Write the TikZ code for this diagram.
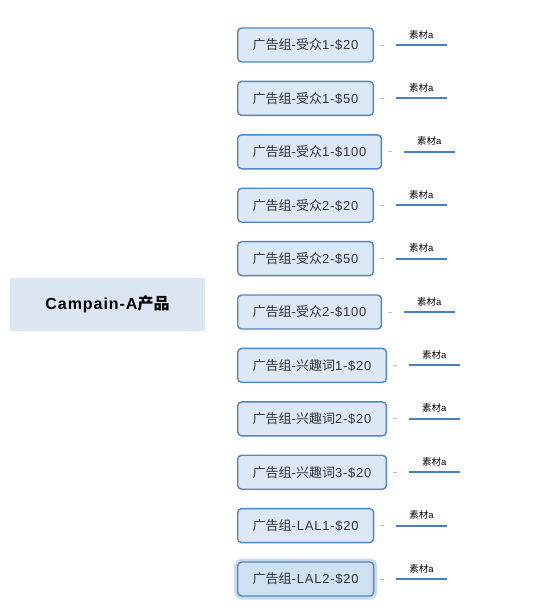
\documentclass[tikz,border=0pt]{standalone}
\usepackage{fontspec}
\setmainfont{Liberation Sans}[LetterSpace=6]
\newfontfamily\zhfont{Noto Sans CJK SC}
\usepackage{tikz}
\usetikzlibrary{positioning}

\definecolor{RootFill}{HTML}{DBE6F1}
\definecolor{GroupFill}{HTML}{DCE8F5}
\definecolor{GroupFillOn}{HTML}{CFE2F4}
\definecolor{GroupLine}{HTML}{5087C7}
\definecolor{MatLine}{HTML}{4A7FC4}
\definecolor{TextGray}{HTML}{333333}
\definecolor{Glow}{HTML}{C9DAEA}

\newcommand{\zh}[1]{{\zhfont #1}}

\tikzset{
  root/.style={fill=RootFill, minimum width=195pt, minimum height=53pt, font=\fontsize{16}{18}\selectfont\bfseries},
  group/.style={draw=GroupLine, line width=1.4pt, fill=GroupFill, rounded corners=4pt, minimum height=34pt, inner xsep=15pt, text=TextGray, font=\fontsize{13}{15}\selectfont},
  glow/.style={fill=GroupFillOn, preaction={draw=Glow, line width=7pt}},
  mat/.style={minimum width=50pt, inner xsep=0pt, inner ysep=6pt, font=\fontsize{9.5}{10}\selectfont},
  matline/.style={MatLine, line width=2pt},
  stub/.style={black!25, line width=0.8pt, shorten <=6pt, shorten >=12pt},
}

\begin{document}
\begin{tikzpicture}[x=1pt, y=1pt]
  \useasboundingbox (0,0) rectangle (554,-613);

  \node[root] (root) at (107.5,-304.5) {Campain-A\zh{产品}};

  \node[group, anchor=west] (g1) at (237,-45) {\zh{广告组}-\zh{受众}1-\$20};
  \node[group, below right=18pt and 0pt of g1.south west] (g2) {\zh{广告组}-\zh{受众}1-\$50};
  \node[group, below right=18pt and 0pt of g2.south west] (g3) {\zh{广告组}-\zh{受众}1-\$100};
  \node[group, below right=18pt and 0pt of g3.south west] (g4) {\zh{广告组}-\zh{受众}2-\$20};
  \node[group, below right=18pt and 0pt of g4.south west] (g5) {\zh{广告组}-\zh{受众}2-\$50};
  \node[group, below right=18pt and 0pt of g5.south west] (g6) {\zh{广告组}-\zh{受众}2-\$100};
  \node[group, below right=18pt and 0pt of g6.south west] (g7) {\zh{广告组}-\zh{兴趣词}1-\$20};
  \node[group, below right=18pt and 0pt of g7.south west] (g8) {\zh{广告组}-\zh{兴趣词}2-\$20};
  \node[group, below right=18pt and 0pt of g8.south west] (g9) {\zh{广告组}-\zh{兴趣词}3-\$20};
  \node[group, below right=18pt and 0pt of g9.south west] (g10) {\zh{广告组}-LAL1-\$20};
  \node[group, glow, below right=18pt and 0pt of g10.south west] (g11) {\zh{广告组}-LAL2-\$20};

  \node[mat, above right=0pt and 22pt of g1.east] (m1) {\zh{素材}a};
  \node[mat, above right=0pt and 22pt of g2.east] (m2) {\zh{素材}a};
  \node[mat, above right=0pt and 22pt of g3.east] (m3) {\zh{素材}a};
  \node[mat, above right=0pt and 22pt of g4.east] (m4) {\zh{素材}a};
  \node[mat, above right=0pt and 22pt of g5.east] (m5) {\zh{素材}a};
  \node[mat, above right=0pt and 22pt of g6.east] (m6) {\zh{素材}a};
  \node[mat, above right=0pt and 22pt of g7.east] (m7) {\zh{素材}a};
  \node[mat, above right=0pt and 22pt of g8.east] (m8) {\zh{素材}a};
  \node[mat, above right=0pt and 22pt of g9.east] (m9) {\zh{素材}a};
  \node[mat, above right=0pt and 22pt of g10.east] (m10) {\zh{素材}a};
  \node[mat, above right=0pt and 22pt of g11.east] (m11) {\zh{素材}a};

  \draw[stub] (g1.east) -- (m1.south west);
  \draw[stub] (g2.east) -- (m2.south west);
  \draw[stub] (g3.east) -- (m3.south west);
  \draw[stub] (g4.east) -- (m4.south west);
  \draw[stub] (g5.east) -- (m5.south west);
  \draw[stub] (g6.east) -- (m6.south west);
  \draw[stub] (g7.east) -- (m7.south west);
  \draw[stub] (g8.east) -- (m8.south west);
  \draw[stub] (g9.east) -- (m9.south west);
  \draw[stub] (g10.east) -- (m10.south west);
  \draw[stub] (g11.east) -- (m11.south west);

  \draw[matline] (m1.south west) -- (m1.south east);
  \draw[matline] (m2.south west) -- (m2.south east);
  \draw[matline] (m3.south west) -- (m3.south east);
  \draw[matline] (m4.south west) -- (m4.south east);
  \draw[matline] (m5.south west) -- (m5.south east);
  \draw[matline] (m6.south west) -- (m6.south east);
  \draw[matline] (m7.south west) -- (m7.south east);
  \draw[matline] (m8.south west) -- (m8.south east);
  \draw[matline] (m9.south west) -- (m9.south east);
  \draw[matline] (m10.south west) -- (m10.south east);
  \draw[matline] (m11.south west) -- (m11.south east);
\end{tikzpicture}
\end{document}
